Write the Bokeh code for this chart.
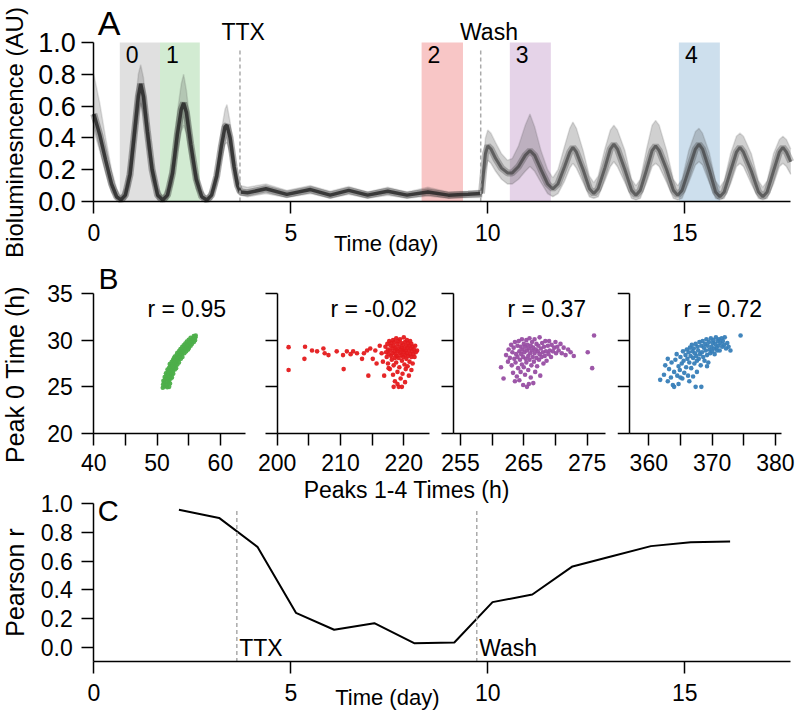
import math
from bokeh.plotting import figure
from bokeh.models import Range1d, FixedTicker, Label, PrintfTickFormatter
from bokeh.layouts import column, row
from bokeh.embed import file_html
from bokeh.resources import INLINE

FONT = "Liberation Sans"

# ---------------- Panel A data ----------------
trace_t = [0.00, 0.15, 0.30, 0.45, 0.58, 0.69, 0.80, 0.92, 1.04, 1.13, 1.19, 1.26, 1.36, 1.48, 1.62, 1.75,
           1.87, 2.00, 2.12, 2.22, 2.28, 2.35, 2.46, 2.60, 2.74, 2.87, 2.99, 3.12, 3.24, 3.33, 3.38, 3.46,
           3.56, 3.65, 3.72, 3.90, 4.37, 4.90, 5.50, 6.00, 6.47, 6.95, 7.46, 7.95, 8.48, 9.00, 9.50, 9.84,
           9.88, 9.94, 10.00, 10.08, 10.20, 10.35, 10.50, 10.62, 10.78, 10.95, 11.07, 11.19, 11.35, 11.52,
           11.65, 11.78, 11.95, 12.08, 12.16, 12.25, 12.42, 12.58, 12.69, 12.80, 12.97, 13.11, 13.20, 13.29,
           13.48, 13.65, 13.76, 13.87, 14.03, 14.17, 14.26, 14.35, 14.54, 14.71, 14.82, 14.93, 15.10, 15.27,
           15.36, 15.45, 15.62, 15.78, 15.89, 16.00, 16.16, 16.31, 16.40, 16.49, 16.69, 16.87, 16.98, 17.09,
           17.25, 17.40, 17.49, 17.58, 17.69]
trace_mid = [0.55, 0.42, 0.26, 0.11, 0.03, 0.01, 0.04, 0.17, 0.45, 0.66, 0.74, 0.66, 0.44, 0.20, 0.04, 0.01,
             0.04, 0.18, 0.42, 0.58, 0.62, 0.56, 0.36, 0.14, 0.03, 0.01, 0.04, 0.16, 0.35, 0.47, 0.48, 0.40,
             0.22, 0.10, 0.06, 0.055, 0.08, 0.045, 0.075, 0.04, 0.07, 0.04, 0.065, 0.04, 0.06, 0.04, 0.045, 0.05,
             0.16, 0.30, 0.35, 0.33, 0.27, 0.21, 0.18, 0.18, 0.22, 0.29, 0.32, 0.29, 0.20, 0.11,
             0.08, 0.11, 0.22, 0.31, 0.34, 0.31, 0.20, 0.08, 0.05, 0.08, 0.21, 0.33, 0.36, 0.33,
             0.20, 0.07, 0.04, 0.07, 0.20, 0.32, 0.35, 0.32, 0.20, 0.07, 0.04, 0.07, 0.20, 0.33,
             0.36, 0.33, 0.20, 0.06, 0.03, 0.06, 0.19, 0.31, 0.34, 0.31, 0.19, 0.06, 0.03, 0.06,
             0.19, 0.31, 0.34, 0.31, 0.25]
trace_lo = [0.45, 0.32, 0.18, 0.06, 0.01, 0.00, 0.01, 0.10, 0.35, 0.55, 0.62, 0.55, 0.34, 0.13, 0.01, 0.00,
            0.01, 0.11, 0.31, 0.44, 0.48, 0.43, 0.26, 0.08, 0.01, 0.00, 0.01, 0.10, 0.26, 0.36, 0.37, 0.30,
            0.15, 0.06, 0.04, 0.03, 0.05, 0.025, 0.05, 0.02, 0.045, 0.02, 0.04, 0.02, 0.035, 0.02, 0.025, 0.025,
            0.08, 0.20, 0.26, 0.24, 0.19, 0.14, 0.11, 0.11, 0.14, 0.19, 0.22, 0.19, 0.12, 0.05,
            0.03, 0.05, 0.13, 0.21, 0.24, 0.21, 0.12, 0.03, 0.02, 0.03, 0.13, 0.22, 0.25, 0.22,
            0.12, 0.02, 0.01, 0.02, 0.12, 0.22, 0.24, 0.22, 0.12, 0.02, 0.01, 0.02, 0.12, 0.23,
            0.25, 0.23, 0.12, 0.02, 0.01, 0.02, 0.11, 0.22, 0.24, 0.22, 0.11, 0.02, 0.01, 0.02,
            0.11, 0.22, 0.24, 0.22, 0.17]
trace_hi = [0.80, 0.62, 0.40, 0.20, 0.08, 0.03, 0.09, 0.28, 0.58, 0.80, 0.86, 0.78, 0.55, 0.28, 0.09, 0.03,
            0.09, 0.27, 0.56, 0.74, 0.80, 0.70, 0.46, 0.20, 0.07, 0.03, 0.08, 0.22, 0.45, 0.58, 0.61, 0.50,
            0.30, 0.15, 0.10, 0.09, 0.11, 0.07, 0.10, 0.065, 0.095, 0.06, 0.09, 0.06, 0.09, 0.06, 0.065, 0.07,
            0.24, 0.40, 0.45, 0.43, 0.37, 0.30, 0.26, 0.27, 0.35, 0.48, 0.55, 0.47, 0.32, 0.20,
            0.15, 0.20, 0.35, 0.46, 0.50, 0.46, 0.32, 0.16, 0.12, 0.16, 0.33, 0.45, 0.48, 0.45,
            0.32, 0.14, 0.10, 0.14, 0.33, 0.48, 0.51, 0.48, 0.32, 0.14, 0.10, 0.14, 0.32, 0.44,
            0.46, 0.43, 0.31, 0.13, 0.09, 0.13, 0.30, 0.41, 0.43, 0.41, 0.30, 0.13, 0.09, 0.13,
            0.30, 0.39, 0.41, 0.39, 0.33]

win_start = [0.66, 1.68, 8.32, 10.56, 14.85]
win_end = [1.68, 2.69, 9.37, 11.60, 15.89]
win_label = ["0", "1", "2", "3", "4"]
win_color = ["#000000", "#4daf4a", "#e41a1c", "#984ea3", "#377eb8"]
win_alpha = [0.12, 0.25, 0.25, 0.25, 0.25]
ttx_day_a = 3.71
wash_day_a = 9.82
day_ticks = [0, 5, 10, 15]
day_end = 17.69
lum_ticks = [0, 0.2, 0.4, 0.6, 0.8, 1.0]

# ---------------- Panel B data ----------------
green_pts = [(50.9,24.9),(51.6,24.95),(51.2,25.05),(51.9,25.0),(50.95,25.25),(51.45,25.2),
             (51.1,25.45),(51.75,25.4),(52.05,25.35),(51.0,25.65),(51.4,25.6),(51.9,25.7),
             (51.3,25.85),(51.7,25.8),(52.15,25.9),(51.2,26.05),(51.6,26.0),(52.0,26.1),(52.35,26.0),
             (51.5,26.25),(51.95,26.2),(52.3,26.3),(51.4,26.45),(51.8,26.4),(52.25,26.5),(52.55,26.4),
             (51.7,26.65),(52.1,26.6),(52.5,26.7),(51.65,26.85),(52.05,26.8),(52.4,26.9),(52.8,26.85),
             (51.9,27.05),(52.3,27.0),(52.7,27.1),(53.0,27.0),(52.1,27.25),(52.55,27.2),(52.9,27.3),
             (52.0,27.45),(52.45,27.4),(52.8,27.5),(53.2,27.4),(52.3,27.65),(52.7,27.6),(53.1,27.7),(53.45,27.6),
             (52.5,27.85),(52.95,27.8),(53.3,27.9),(52.65,28.05),(53.0,28.0),(53.4,28.1),(53.75,28.0),
             (52.8,28.25),(53.25,28.2),(53.6,28.3),(54.0,28.2),(53.1,28.45),(53.5,28.4),(53.9,28.5),
             (53.2,28.65),(53.65,28.6),(54.0,28.7),(54.3,28.6),(53.5,28.85),(53.9,28.8),(54.3,28.9),(54.6,28.8),
             (53.7,29.05),(54.1,29.0),(54.5,29.1),(54.9,29.0),(53.95,29.25),(54.35,29.2),(54.7,29.3),(55.05,29.2),
             (54.2,29.45),(54.6,29.4),(55.0,29.5),(55.3,29.4),(54.45,29.65),(54.85,29.6),(55.2,29.7),(55.5,29.6),
             (54.7,29.85),(55.1,29.8),(55.5,29.9),(55.8,29.8),(55.0,30.05),(55.4,30.0),(55.75,30.1),(56.0,30.0),
             (55.3,30.25),(55.7,30.2),(56.05,30.3),(55.8,30.45),(56.1,30.5),(55.95,30.35)]
red_pts = [(201.8,29.25),(201.8,26.8),(204.4,29.3),(204.3,28.0),(205.5,28.9),(206.3,28.8),(207.3,29.1),
           (207.5,28.6),(208.1,28.4),(209.4,28.8),(210.4,28.4),(210.5,26.9),(211.0,28.8),(211.6,28.5),
           (212.0,28.8),(212.6,28.6),(213.4,28.0),(213.7,28.6),(214.2,28.9),(214.4,26.2),(214.7,29.1),
           (215.1,28.0),(215.5,28.9),(215.7,27.5),(216.2,29.4),(216.5,28.6),(216.7,27.7),(216.9,26.2),
           (217.1,29.3),(217.2,28.7),(217.3,28.2),(217.4,29.6),(217.5,29.0),(217.5,27.5),(217.6,28.5),(217.7,29.9),
           (217.8,28.9),(217.8,26.9),(217.9,29.4),(218.0,28.3),(218.0,29.7),(218.1,27.9),(218.2,29.1),(218.2,28.6),
           (218.3,30.0),(218.3,26.3),(218.4,29.4),(218.4,27.3),(218.5,28.8),(218.5,29.8),(218.6,28.1),(218.6,25.6),
           (218.7,29.2),(218.7,28.5),(218.8,30.2),(218.8,27.6),(218.9,29.0),(218.9,28.3),(219.0,29.6),(219.0,26.6),
           (219.1,28.8),(219.1,29.9),(219.2,28.1),(219.2,25.0),(219.3,29.3),(219.3,27.1),(219.4,28.6),(219.4,30.1),
           (219.5,29.0),(219.5,25.9),(219.6,28.4),(219.6,29.7),(219.7,27.8),(219.7,29.2),(219.8,28.9),(219.8,26.4),
           (219.9,29.5),(219.9,28.2),(220.0,30.3),(220.0,28.7),(220.1,27.4),(220.1,29.1),(220.2,28.4),(220.2,29.8),
           (220.3,26.9),(220.3,28.9),(220.4,29.4),(220.4,28.0),(220.5,30.0),(220.5,28.6),(220.6,27.2),(220.6,29.2),
           (220.7,28.3),(220.7,29.7),(220.8,26.2),(220.8,28.9),(220.9,29.4),(220.9,27.7),(221.0,28.5),(221.0,29.9),
           (221.1,29.1),(221.2,28.2),(221.2,29.6),(221.3,28.8),(221.4,27.5),(221.4,29.3),(221.5,28.5),(221.6,29.0),
           (221.7,28.2),(221.8,29.4),(221.9,28.7),(222.1,28.9),(218.4,25.0),(219.7,25.0),(220.2,25.5),(219.0,25.3),
           (217.6,27.0),(221.2,26.8)]
purple_pts = [(261.4,27.1),(261.8,25.9),(262.2,28.4),(262.5,27.7),(262.6,29.0),(262.8,28.1),(263.0,29.5),(263.1,27.3),
              (263.2,28.7),(263.3,26.5),(263.4,29.2),(263.5,28.0),(263.6,29.8),(263.7,27.6),(263.8,28.5),(263.9,26.1),
              (264.0,29.4),(264.0,28.2),(264.1,27.0),(264.2,29.9),(264.3,28.8),(264.3,25.7),(264.4,27.9),(264.5,29.3),
              (264.5,26.6),(264.6,28.5),(264.7,30.1),(264.7,27.4),(264.8,29.0),(264.9,28.2),(264.9,25.2),(265.0,29.6),
              (265.0,27.1),(265.1,28.7),(265.2,26.3),(265.2,29.3),(265.3,28.0),(265.4,30.0),(265.4,27.6),(265.5,28.9),
              (265.5,25.0),(265.6,29.5),(265.7,28.3),(265.7,26.8),(265.8,29.1),(265.9,27.9),(265.9,30.2),(266.0,28.6),
              (266.1,26.0),(266.1,29.4),(266.2,27.3),(266.3,28.9),(266.3,29.8),(266.4,28.2),(266.5,25.4),(266.5,29.2),
              (266.6,27.7),(266.7,28.6),(266.7,30.1),(266.8,26.6),(266.9,29.0),(267.0,28.1),(267.0,29.6),(267.1,27.2),
              (267.2,28.8),(267.3,29.4),(267.4,27.9),(267.5,30.3),(267.5,28.5),(267.6,26.2),(267.7,29.1),(267.8,28.2),
              (267.9,29.7),(268.0,28.7),(268.1,27.5),(268.2,29.3),(268.3,28.3),(268.4,29.9),(268.5,28.8),(268.6,27.8),
              (268.8,29.4),(268.9,28.5),(269.0,29.9),(269.1,28.9),(269.3,28.2),(269.4,29.5),(269.6,28.8),(269.8,29.2),
              (270.0,29.8),(270.1,28.6),(270.3,29.3),(270.5,28.9),(270.8,29.6),(271.0,28.6),(271.3,29.2),(271.6,28.4),
              (272.0,29.0),(272.4,28.7),(272.9,28.3),(263.6,25.6),(265.8,25.3),(275.1,28.7),(275.8,27.0),(276.1,30.5)]
blue_pts = [(361.8,25.75),(362.6,27.3),(362.4,26.3),(363.0,25.6),(363.2,26.9),(363.5,26.0),(363.6,27.6),(363.8,25.2),
            (364.0,25.0),(364.0,26.6),(364.2,27.9),(364.4,28.5),(364.5,26.2),(364.7,25.3),(364.7,27.2),(364.9,26.8),
            (365.0,28.2),(365.2,27.5),(365.3,25.9),(365.4,28.8),(365.5,27.8),(365.6,26.5),(365.8,28.4),(365.9,27.1),
            (366.0,29.0),(366.1,28.0),(366.2,26.2),(366.3,28.7),(366.4,27.6),(366.5,29.2),(366.6,28.3),(366.7,27.0),
            (366.8,29.5),(366.9,28.8),(367.0,26.1),(367.0,28.1),(367.1,29.1),(367.2,27.5),(367.3,28.6),(367.4,25.0),
            (367.4,29.6),(367.5,28.3),(367.6,27.8),(367.7,29.3),(367.8,28.9),(367.9,28.0),(368.0,29.8),(368.1,28.5),
            (368.2,27.3),(368.3,29.4),(368.4,28.7),(368.5,29.9),(368.6,28.2),(368.7,29.2),(368.8,27.8),(368.9,29.6),
            (369.0,28.9),(369.1,30.1),(369.2,28.4),(369.3,29.4),(369.4,27.6),(369.5,29.8),(369.6,29.0),(369.7,28.6),
            (369.8,30.2),(369.9,29.3),(370.0,28.8),(370.1,29.7),(370.2,30.0),(370.3,29.1),(370.4,28.5),(370.5,29.6),
            (370.6,30.3),(370.7,29.2),(370.8,28.9),(370.9,29.9),(371.0,29.4),(371.1,30.1),(371.2,28.9),(371.3,29.7),
            (371.5,30.2),(371.6,29.3),(371.7,29.9),(371.9,29.5),(372.0,30.3),(372.2,29.1),(372.4,29.7),(372.6,29.3),
            (372.9,28.9),(374.5,30.5),(366.4,25.6),(368.3,25.0),(365.0,26.0),(363.0,28.0),(367.6,26.6),(369.2,27.2)]
b_sets = [green_pts, red_pts, purple_pts, blue_pts]
b_colors = ["#4daf4a", "#e41a1c", "#984ea3", "#377eb8"]
b_spine = [(40.0, 64.0), (200.0, 224.0), (253.94, 277.94), (357.0, 381.0)]
b_major = [[40, 50, 60], [200, 210, 220], [255, 265, 275], [360, 370, 380]]
b_minor = [[45, 55], [205, 215], [260, 270], [365, 375]]
b_r_text = ["r = 0.95", "r = -0.02", "r = 0.37", "r = 0.72"]
b_r_x = [48.48, 208.42, 262.42, 365.48]
b_yticks = [20, 25, 30, 35]

# ---------------- Panel C data ----------------
c_days = [2.16, 3.18, 4.16, 5.13, 6.10, 7.12, 8.13, 9.15, 10.12, 11.13, 12.15, 13.15, 14.14, 15.15, 16.15]
c_r = [0.956, 0.90, 0.697, 0.241, 0.123, 0.169, 0.03, 0.035, 0.315, 0.368, 0.563, 0.634, 0.704, 0.731, 0.736]
ttx_day_c = 3.63
wash_day_c = 9.72
r_ticks = [0, 0.2, 0.4, 0.6, 0.8, 1.0]

DASH = "#aaaaaa"
PX_DAY = 39.4       # px per day
X0_PX = 93.3        # page x of day 0 / first spine


def style(p, tick_size="23px", xstand=10):
    for ax in p.axis:
        ax.axis_line_width = 1.5
        ax.axis_line_color = "black"
        ax.major_tick_line_width = 1.5
        ax.major_tick_line_color = "black"
        ax.major_tick_out = 12
        ax.major_tick_in = 0
        ax.minor_tick_line_color = None
        ax.major_label_text_font = FONT
        ax.major_label_text_font_size = tick_size
        ax.major_label_text_color = "black"
    p.xaxis.major_label_standoff = xstand
    p.yaxis.major_label_standoff = 9
    p.grid.visible = False
    p.outline_line_color = None
    p.background_fill_color = "white"
    p.border_fill_color = "white"


def mkfig(w, h, xr, yr):
    return figure(width=w, height=h, x_range=Range1d(*xr), y_range=Range1d(*yr), title=None,
                  output_backend="svg", toolbar_location=None,
                  min_border=0, min_border_left=0, min_border_right=0, min_border_top=0, min_border_bottom=0)


def txt(p, x, y, s, size="23px", align="left", angle=0.0):
    p.add_layout(Label(x=x, y=y, text=s, text_font=FONT, text_font_size=size, text_color="black",
                       text_align=align, text_baseline="middle", angle=angle))


# ---------------- Panel A ----------------
A_H = 262
a_x = (-X0_PX / PX_DAY, (796 - X0_PX) / PX_DAY)
a_y = (-(A_H - 201) / 159.0, 201 / 159.0)
pA = mkfig(796, A_H, a_x, a_y)
style(pA)
pA.yaxis.major_label_text_font_size = "27px"
pA.yaxis.major_label_standoff = 6
for s, e, c, a in zip(win_start, win_end, win_color, win_alpha):
    pA.quad(left=[s], right=[e], bottom=[0], top=[1.0], fill_color=c, fill_alpha=a, line_color=None)
k = sum(1 for t in trace_t if t <= wash_day_a + 0.02)
pre = slice(0, k)
post = slice(k - 1, len(trace_t))
pA.varea(x=trace_t[pre], y1=trace_lo[pre], y2=trace_hi[pre], fill_color="#444444", fill_alpha=0.22)
pA.varea(x=trace_t[post], y1=trace_lo[post], y2=trace_hi[post], fill_color="#555555", fill_alpha=0.28)
pA.line(trace_t, trace_hi, line_color="#444444", line_alpha=0.15, line_width=1.5)
pA.line(trace_t, trace_lo, line_color="#444444", line_alpha=0.2, line_width=1.5)
pA.line(trace_t[pre], trace_mid[pre], line_color="#222222", line_alpha=0.35, line_width=7)
pA.line(trace_t[pre], trace_mid[pre], line_color="#222222", line_alpha=0.8, line_width=3.5)
pA.line(trace_t[post], trace_mid[post], line_color="#333333", line_alpha=0.3, line_width=7)
pA.line(trace_t[post], trace_mid[post], line_color="#333333", line_alpha=0.6, line_width=3)
for d in (ttx_day_a, wash_day_a):
    pA.segment(x0=[d], y0=[0.0], x1=[d], y1=[0.95], line_color=DASH, line_dash="4 3", line_width=1.5)
pA.xaxis.ticker = FixedTicker(ticks=day_ticks)
pA.xaxis.fixed_location = 0
pA.xaxis.bounds = (0, day_end)
pA.yaxis.ticker = FixedTicker(ticks=lum_ticks)
pA.yaxis.formatter = PrintfTickFormatter(format="%.1f")
pA.yaxis.fixed_location = 0
pA.yaxis.bounds = (0, 1.0)
for s, lab in zip(win_start, win_label):
    txt(pA, s + 0.152, 0.9214, lab)
txt(pA, ttx_day_a + 0.08, 1.069, "TTX", align="center")
txt(pA, wash_day_a + 0.21, 1.069, "Wash", align="center")
txt(pA, 0.10, 1.1226, "A", size="34px")
txt(pA, 7.42, -0.264, "Time (day)", size="22px", align="center")
txt(pA, (14 - X0_PX) / PX_DAY, 0.434, "Bioluminesncence (AU)", size="24px", align="center", angle=math.pi / 2)

# ---------------- Panel B ----------------
B_TOP, B_BOT = 262, 475
PX_B = 6.33
PX_BY = 140 / 15.0
b_canvas = [(0, 255), (255, 437), (437, 617), (617, 796)]
b_ref_px = [(40, 93.3), (200, 276.7), (255, 460.0), (360, 648.3)]
b_y = (20 - (B_BOT - 433) / PX_BY, 20 + (433 - B_TOP) / PX_BY)
b_figs = []
for i in range(4):
    c0, c1 = b_canvas[i]
    v, px = b_ref_px[i]
    bx = (v - (px - c0) / PX_B, v + (c1 - px) / PX_B)
    p = mkfig(c1 - c0, B_BOT - B_TOP, bx, b_y)
    style(p, xstand=8)
    xs = [q[0] for q in b_sets[i]]
    ys = [q[1] for q in b_sets[i]]
    p.scatter(xs, ys, size=4.6, fill_color=b_colors[i], line_color=None, fill_alpha=0.95)
    p.xaxis.ticker = FixedTicker(ticks=b_major[i], minor_ticks=b_minor[i])
    p.xaxis.minor_tick_line_color = "black"
    p.xaxis.minor_tick_line_width = 1.5
    p.xaxis.minor_tick_out = 12
    p.xaxis.minor_tick_in = 0
    p.xaxis.fixed_location = 20
    p.xaxis.bounds = b_spine[i]
    if i == 0:
        p.yaxis.ticker = FixedTicker(ticks=b_yticks)
    else:
        p.yaxis.ticker = FixedTicker(ticks=[], minor_ticks=b_yticks)
        p.yaxis.minor_tick_line_color = "black"
        p.yaxis.minor_tick_line_width = 1.5
        p.yaxis.minor_tick_out = 12
        p.yaxis.minor_tick_in = 0
    p.yaxis.fixed_location = b_spine[i][0]
    p.yaxis.bounds = (20, 35)
    txt(p, b_r_x[i], 33.36, b_r_text[i])
    b_figs.append(p)
txt(b_figs[0], 40.74, 36.66, "B", size="30px")
txt(b_figs[0], 40 + (14 - 93.3) / PX_B, 26.32, "Peak 0 Time (h)", size="25px", align="center", angle=math.pi / 2)

# ---------------- Panel C ----------------
C_TOP, C_BOT = 475, 711
c_y = (-(C_BOT - 647) / 144.0, (647 - C_TOP) / 144.0)
pC = mkfig(796, C_BOT - C_TOP, a_x, c_y)
style(pC)
pC.line(c_days, c_r, line_color="black", line_width=2)
for d in (ttx_day_c, wash_day_c):
    pC.segment(x0=[d], y0=[-0.1], x1=[d], y1=[0.96], line_color=DASH, line_dash="4 3", line_width=1.5)
pC.xaxis.ticker = FixedTicker(ticks=day_ticks)
pC.xaxis.fixed_location = -0.1
pC.xaxis.bounds = (0, day_end)
pC.yaxis.ticker = FixedTicker(ticks=r_ticks)
pC.yaxis.formatter = PrintfTickFormatter(format="%.1f")
pC.yaxis.fixed_location = 0
pC.yaxis.bounds = (-0.1, 1.0)
txt(pC, ttx_day_c + 0.06, 0.0, "TTX")
txt(pC, wash_day_c + 0.06, 0.0, "Wash")
txt(pC, 0.10, 0.951, "C", size="29px")
txt(pC, 7.944, (647 - 489) / 144.0, "Peaks 1-4 Times (h)", size="23px", align="center")
txt(pC, 7.45, -0.347, "Time (day)", size="22px", align="center")
txt(pC, (14 - X0_PX) / PX_DAY, 0.451, "Pearson r", size="25px", align="center", angle=math.pi / 2)

layout = column(pA, row(*b_figs), pC)
open("out.html", "w").write(file_html(layout, INLINE))
